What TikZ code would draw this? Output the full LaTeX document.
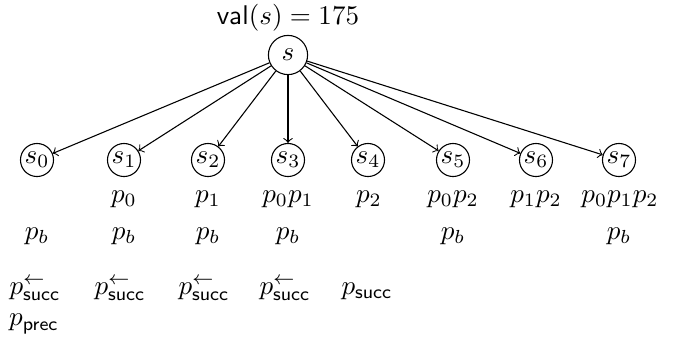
\documentclass[tikz,border=0pt]{standalone}
\begin{document}
\begin{tikzpicture}[x=0.37pt,y=-0.37pt,
  root/.style={circle,draw,inner sep=0pt,minimum size=14.5pt},
  child/.style={circle,draw,inner sep=0.5pt,minimum size=12pt},
  lbl/.style={inner sep=0pt},
  edge/.style={->}]
\useasboundingbox (0,0) rectangle (678,341);
\node[lbl] (val) at (288,18) {$\mathsf{val}(s) = 175$};
\node[root] (s) at (288,55) {$s$};
\foreach \i/\x in {0/37,1/124,2/208,3/288,4/368,5/453,6/536,7/619}{
  \node[child] (s\i) at (\x,160) {$s_{\i}$};
  \draw[edge] (s) -- (s\i);
}
% first label row
\node[lbl] (a1) at (124,199) {$p_0$};
\node[lbl] (a2) at (208,199) {$p_1$};
\node[lbl] (a3) at (288,199) {$p_0p_1$};
\node[lbl] (a4) at (369,199) {$p_2$};
\node[lbl] (a5) at (453,199) {$p_0p_2$};
\node[lbl] (a6) at (536,199) {$p_1p_2$};
\node[lbl] (a7) at (620,199) {$p_0p_1p_2$};
% p_b row
\foreach \i/\x in {0/37,1/124,2/208,3/288,5/453,7/619}{
  \node[lbl] (b\i) at (\x,236) {$p_b$};
}
% succ row
\foreach \i/\x in {0/35,1/120,2/204,3/285}{
  \node[lbl] (c\i) at (\x,289) {$p^{\leftarrow}_{\mathsf{succ}}$};
}
\node[lbl] (c4) at (367,291) {$p_{\mathsf{succ}}$};
\node[lbl] (d0) at (34,324) {$p_{\mathsf{prec}}$};
\end{tikzpicture}
\end{document}
